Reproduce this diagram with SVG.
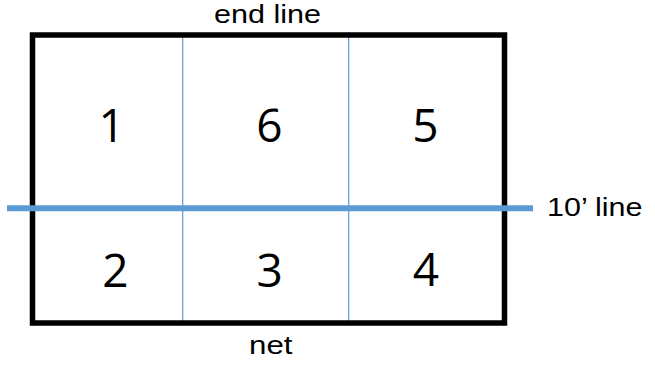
<svg xmlns="http://www.w3.org/2000/svg" width="655" height="366" viewBox="0 0 655 366">
<style>
.lbl{font-family:"Liberation Sans",Arial,sans-serif;font-size:25px;fill:#000}
.num{font-family:"Open Sans","Liberation Sans",sans-serif;font-size:46px;fill:#000;text-anchor:middle}
.thin{stroke:#5B9BD5;stroke-width:1.2;fill:none}
</style>
<rect width="655" height="366" fill="#fff"/>
<g id="connectors">
<line class="thin" x1="182.7" y1="35" x2="182.7" y2="323"/>
<line class="thin" x1="348.7" y1="32" x2="348.7" y2="323"/>
</g>
<g id="court">
<rect x="32.5" y="35" width="472" height="288" fill="none" stroke="#000" stroke-width="5.5"/>
</g>
<g id="ten-line">
<line x1="7" y1="208.3" x2="533" y2="208.3" stroke="#5B9BD5" stroke-width="6"/>
</g>
<g id="labels">
<text class="lbl" x="214" y="22.7" textLength="107" lengthAdjust="spacingAndGlyphs">end line</text>
<text class="lbl" x="249" y="354.3" textLength="43.5" lengthAdjust="spacingAndGlyphs">net</text>
<text class="lbl" x="547" y="216" textLength="95.5" lengthAdjust="spacingAndGlyphs">10’ line</text>
</g>
<g id="zone1"><text class="num" x="111.7" y="141.7">1</text></g>
<g id="zone6"><text class="num" x="269.3" y="141.7">6</text></g>
<g id="zone5"><text class="num" x="425.5" y="141.7">5</text></g>
<g id="zone2"><text class="num" x="115.5" y="286.5">2</text></g>
<g id="zone3"><text class="num" x="269.7" y="286.5">3</text></g>
<g id="zone4"><text class="num" x="425.8" y="285.5">4</text></g>
</svg>
